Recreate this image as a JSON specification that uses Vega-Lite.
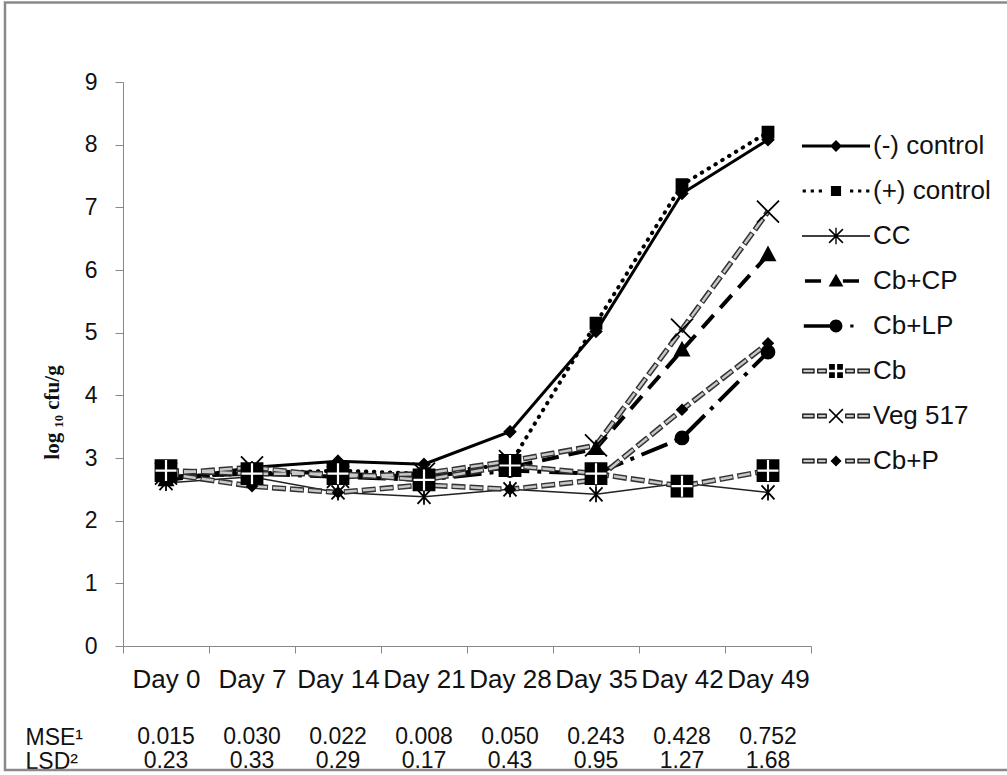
{
  "$schema": "https://vega.github.io/schema/vega-lite/v6.json",
  "width": 688,
  "height": 564,
  "autosize": {"type": "none"},
  "padding": {"left": 123, "top": 82, "right": 196, "bottom": 129},
  "background": "white",
  "config": {"view": {"stroke": null}, "font": "Liberation Sans", "axis": {"grid": false}},
  "datasets": {
    "series": [
      {"series": "(-) control", "day": "Day 0", "v": 2.65},
      {"series": "(-) control", "day": "Day 7", "v": 2.85},
      {"series": "(-) control", "day": "Day 14", "v": 2.95},
      {"series": "(-) control", "day": "Day 21", "v": 2.9},
      {"series": "(-) control", "day": "Day 28", "v": 3.42},
      {"series": "(-) control", "day": "Day 35", "v": 5.02},
      {"series": "(-) control", "day": "Day 42", "v": 7.22},
      {"series": "(-) control", "day": "Day 49", "v": 8.08},
      {"series": "(+) control", "day": "Day 0", "v": 2.7},
      {"series": "(+) control", "day": "Day 7", "v": 2.75},
      {"series": "(+) control", "day": "Day 14", "v": 2.8},
      {"series": "(+) control", "day": "Day 21", "v": 2.75},
      {"series": "(+) control", "day": "Day 28", "v": 2.9},
      {"series": "(+) control", "day": "Day 35", "v": 5.15},
      {"series": "(+) control", "day": "Day 42", "v": 7.36},
      {"series": "(+) control", "day": "Day 49", "v": 8.2},
      {"series": "CC", "day": "Day 0", "v": 2.6},
      {"series": "CC", "day": "Day 7", "v": 2.7},
      {"series": "CC", "day": "Day 14", "v": 2.45},
      {"series": "CC", "day": "Day 21", "v": 2.38},
      {"series": "CC", "day": "Day 28", "v": 2.5},
      {"series": "CC", "day": "Day 35", "v": 2.42},
      {"series": "CC", "day": "Day 42", "v": 2.6},
      {"series": "CC", "day": "Day 49", "v": 2.45},
      {"series": "Cb+CP", "day": "Day 0", "v": 2.65},
      {"series": "Cb+CP", "day": "Day 7", "v": 2.8},
      {"series": "Cb+CP", "day": "Day 14", "v": 2.75},
      {"series": "Cb+CP", "day": "Day 21", "v": 2.7},
      {"series": "Cb+CP", "day": "Day 28", "v": 2.85},
      {"series": "Cb+CP", "day": "Day 35", "v": 3.15},
      {"series": "Cb+CP", "day": "Day 42", "v": 4.72},
      {"series": "Cb+CP", "day": "Day 49", "v": 6.24},
      {"series": "Cb+LP", "day": "Day 0", "v": 2.7},
      {"series": "Cb+LP", "day": "Day 7", "v": 2.75},
      {"series": "Cb+LP", "day": "Day 14", "v": 2.7},
      {"series": "Cb+LP", "day": "Day 21", "v": 2.65},
      {"series": "Cb+LP", "day": "Day 28", "v": 2.8},
      {"series": "Cb+LP", "day": "Day 35", "v": 2.75},
      {"series": "Cb+LP", "day": "Day 42", "v": 3.32},
      {"series": "Cb+LP", "day": "Day 49", "v": 4.69},
      {"series": "Cb", "day": "Day 0", "v": 2.8},
      {"series": "Cb", "day": "Day 7", "v": 2.75},
      {"series": "Cb", "day": "Day 14", "v": 2.75},
      {"series": "Cb", "day": "Day 21", "v": 2.65},
      {"series": "Cb", "day": "Day 28", "v": 2.88},
      {"series": "Cb", "day": "Day 35", "v": 2.75},
      {"series": "Cb", "day": "Day 42", "v": 2.55},
      {"series": "Cb", "day": "Day 49", "v": 2.8},
      {"series": "Veg 517", "day": "Day 0", "v": 2.75},
      {"series": "Veg 517", "day": "Day 7", "v": 2.85},
      {"series": "Veg 517", "day": "Day 14", "v": 2.7},
      {"series": "Veg 517", "day": "Day 21", "v": 2.75},
      {"series": "Veg 517", "day": "Day 28", "v": 2.95},
      {"series": "Veg 517", "day": "Day 35", "v": 3.2},
      {"series": "Veg 517", "day": "Day 42", "v": 5.05},
      {"series": "Veg 517", "day": "Day 49", "v": 6.93},
      {"series": "Cb+P", "day": "Day 0", "v": 2.75},
      {"series": "Cb+P", "day": "Day 7", "v": 2.55},
      {"series": "Cb+P", "day": "Day 14", "v": 2.45},
      {"series": "Cb+P", "day": "Day 21", "v": 2.57},
      {"series": "Cb+P", "day": "Day 28", "v": 2.5},
      {"series": "Cb+P", "day": "Day 35", "v": 2.65},
      {"series": "Cb+P", "day": "Day 42", "v": 3.77},
      {"series": "Cb+P", "day": "Day 49", "v": 4.83}
    ],
    "table": [
      {"day": "Day 0", "mse": "0.015", "lsd": "0.23"},
      {"day": "Day 7", "mse": "0.030", "lsd": "0.33"},
      {"day": "Day 14", "mse": "0.022", "lsd": "0.29"},
      {"day": "Day 21", "mse": "0.008", "lsd": "0.17"},
      {"day": "Day 28", "mse": "0.050", "lsd": "0.43"},
      {"day": "Day 35", "mse": "0.243", "lsd": "0.95"},
      {"day": "Day 42", "mse": "0.428", "lsd": "1.27"},
      {"day": "Day 49", "mse": "0.752", "lsd": "1.68"}
    ],
    "frame": [{"name": "frame"}]
  },
  "layer": [
    {
      "data": {"name": "frame"},
      "mark": {"type": "rect", "filled": false, "stroke": "#8a8a8a", "strokeWidth": 2.5},
      "encoding": {
        "x": {"datum": -0.1715, "type": "quantitative", "scale": {"domain": [0, 1]}, "axis": null},
        "x2": {"datum": 1.32},
        "y": {"datum": 10.27, "type": "quantitative"},
        "y2": {"datum": -1.98}
      }
    },
    {
      "layer": [
        {
          "data": {"name": "series"},
          "transform": [{"filter": "datum.series === '(-) control'"}],
          "mark": {"type": "line", "color": "#000", "strokeWidth": 3, "strokeJoin": "round"},
          "encoding": {
            "x": {
              "field": "day", "type": "ordinal",
              "scale": {"type": "band", "domain": ["Day 0", "Day 7", "Day 14", "Day 21", "Day 28", "Day 35", "Day 42", "Day 49"], "paddingInner": 0, "paddingOuter": 0},
              "axis": {
                "title": ["MSE¹", "LSD²"], "titleX": -98, "titleY": 98, "titleAlign": "left", "titleAnchor": "start",
                "titleBaseline": "alphabetic", "titleAngle": 0, "titleFontSize": 23, "titleFontWeight": "normal",
                "titleLineHeight": 24, "titleColor": "#111", "titleFont": "Liberation Sans",
                "labelFontSize": 26, "labelColor": "#111", "labelAngle": 0, "labelPadding": 13, "labelOverlap": false,
                "labelBound": false, "labelFont": "Liberation Sans",
                "tickSize": 7, "tickColor": "#888", "domainColor": "#888", "tickBand": "extent"
              }
            },
            "y": {
              "field": "v", "type": "quantitative",
              "scale": {"domain": [0, 9], "nice": false, "zero": true},
              "axis": {
                "title": "log ₁₀ cfu/g", "titleFont": "Liberation Serif", "titleFontSize": 21, "titleFontWeight": "bold",
                "titleColor": "#111", "titlePadding": 22, "titleY": 330, "format": "d",
                "values": [0, 1, 2, 3, 4, 5, 6, 7, 8, 9],
                "labelFontSize": 23, "labelColor": "#111", "labelPadding": 18, "labelFont": "Liberation Sans",
                "tickSize": 8, "tickColor": "#888", "domainColor": "#888"
              }
            }
          }
        },
        {
          "data": {"name": "series"},
          "transform": [{"filter": "datum.series === '(+) control'"}],
          "mark": {"type": "line", "color": "#000", "strokeWidth": 4, "strokeDash": [0.5, 7.5], "strokeCap": "round"},
          "encoding": {"x": {"field": "day", "type": "ordinal"}, "y": {"field": "v", "type": "quantitative"}}
        },
        {
          "data": {"name": "series"},
          "transform": [{"filter": "datum.series === 'CC'"}],
          "mark": {"type": "line", "color": "#222", "strokeWidth": 1.5},
          "encoding": {"x": {"field": "day", "type": "ordinal"}, "y": {"field": "v", "type": "quantitative"}}
        },
        {
          "data": {"name": "series"},
          "transform": [{"filter": "datum.series === 'Cb+CP'"}],
          "mark": {"type": "line", "color": "#000", "strokeWidth": 4, "strokeDash": [17, 10]},
          "encoding": {"x": {"field": "day", "type": "ordinal"}, "y": {"field": "v", "type": "quantitative"}}
        },
        {
          "data": {"name": "series"},
          "transform": [{"filter": "datum.series === 'Cb+LP'"}],
          "mark": {"type": "line", "color": "#000", "strokeWidth": 4, "strokeDash": [28, 8, 4, 8]},
          "encoding": {"x": {"field": "day", "type": "ordinal"}, "y": {"field": "v", "type": "quantitative"}}
        },
        {
          "data": {"name": "series"},
          "transform": [{"filter": {"field": "series", "oneOf": ["Cb", "Veg 517", "Cb+P"]}}],
          "mark": {"type": "line", "color": "#333", "strokeWidth": 5.5, "strokeDash": [14, 4], "strokeDashOffset": 1},
          "encoding": {"x": {"field": "day", "type": "ordinal"}, "y": {"field": "v", "type": "quantitative"}, "detail": {"field": "series"}}
        },
        {
          "data": {"name": "series"},
          "transform": [{"filter": {"field": "series", "oneOf": ["Cb", "Veg 517", "Cb+P"]}}],
          "mark": {"type": "line", "color": "#c8c8c8", "strokeWidth": 2.5, "strokeDash": [12, 6]},
          "encoding": {"x": {"field": "day", "type": "ordinal"}, "y": {"field": "v", "type": "quantitative"}, "detail": {"field": "series"}}
        },
        {
          "data": {"name": "series"},
          "mark": {"type": "point", "filled": true, "color": "#000", "stroke": "#000", "strokeWidth": 1.8, "size": 400, "opacity": 1},
          "encoding": {
            "x": {"field": "day", "type": "ordinal"},
            "y": {"field": "v", "type": "quantitative"},
            "shape": {
              "field": "series", "type": "nominal", "legend": null,
              "scale": {
                "domain": ["(-) control", "(+) control", "CC", "Cb+CP", "Cb+LP", "Cb", "Veg 517", "Cb+P"],
                "range": [
                  "M0,-0.55L0.55,0L0,0.55L-0.55,0Z",
                  "M-0.55,-0.55H0.55V0.55H-0.55Z",
                  "M0,-0.8V0.8M-0.65,-0.7L0.65,0.7M-0.65,0.7L0.65,-0.7",
                  "M0,-0.75L0.7,0.55H-0.7Z",
                  "M-0.65,0A0.65,0.65 0 1,0 0.65,0A0.65,0.65 0 1,0 -0.65,0Z",
                  "M-1.05,-1.05H1.05V1.05H-1.05Z",
                  "M-1.1,-1.1L1.1,1.1M-1.1,1.1L1.1,-1.1",
                  "M0,-0.5L0.5,0L0,0.5L-0.5,0Z"
                ]
              }
            }
          }
        },
        {
          "data": {"name": "series"},
          "transform": [{"filter": "datum.series === 'Cb'"}],
          "mark": {"type": "point", "filled": false, "stroke": "#fff", "strokeWidth": 2.2, "size": 400, "shape": "M-1.05,0H1.05M0,-1.05V1.05", "opacity": 1},
          "encoding": {"x": {"field": "day", "type": "ordinal"}, "y": {"field": "v", "type": "quantitative"}}
        },
        {
          "data": {"name": "table"},
          "mark": {"type": "text", "fontSize": 23, "font": "Liberation Sans", "color": "#111", "align": "center", "baseline": "alphabetic"},
          "encoding": {"x": {"field": "day", "type": "ordinal"}, "y": {"datum": -1.5638, "type": "quantitative"}, "text": {"field": "mse"}}
        },
        {
          "data": {"name": "table"},
          "mark": {"type": "text", "fontSize": 23, "font": "Liberation Sans", "color": "#111", "align": "center", "baseline": "alphabetic"},
          "encoding": {"x": {"field": "day", "type": "ordinal"}, "y": {"datum": -1.9467, "type": "quantitative"}, "text": {"field": "lsd"}}
        },
        {
          "data": {"name": "series"},
          "transform": [{"filter": "false"}],
          "mark": {"type": "point", "filled": true, "color": "#000", "strokeWidth": 0},
          "encoding": {
            "shape": {
              "field": "series", "type": "nominal",
              "scale": {
                "domain": ["(-) control", "(+) control", "CC", "Cb+CP", "Cb+LP", "Cb", "Veg 517", "Cb+P"],
                "range": [
                  "M-1.48,-0.065H1.48V0.065H-1.48Z M0,-0.26L0.26,0L0,0.26L-0.26,0Z",
                  "M-1.45,-0.07h0.14v0.14h-0.14Z M-1.1,-0.07h0.14v0.14h-0.14Z M-0.75,-0.07h0.14v0.14h-0.14Z M0.61,-0.07h0.14v0.14h-0.14Z M0.96,-0.07h0.14v0.14h-0.14Z M1.31,-0.07h0.14v0.14h-0.14Z M-0.22,-0.22H0.22V0.22H-0.22Z",
                  "M-1.48,-0.03H1.48V0.03H-1.48Z M-0.03,-0.36H0.03V0.36H-0.03Z M-0.3233,-0.2767L-0.2767,-0.3233L0.3233,0.2767L0.2767,0.3233Z M-0.2767,0.3233L-0.3233,0.2767L0.2767,-0.3233L0.3233,-0.2767Z",
                  "M-1.35,-0.075H-0.65V0.075H-1.35Z M0,-0.32L0.32,0.24H-0.32Z M0.3,-0.075H1.0V0.075H0.3Z",
                  "M-1.4,-0.075H-0.25V0.075H-1.4Z M-0.28,0A0.28,0.28 0 1,1 0.28,0A0.28,0.28 0 1,1 -0.28,0Z M0.62,-0.07h0.14v0.14h-0.14Z",
                  "M-1.47,-0.11H-0.93V0.11H-1.47Z M-0.82,-0.11H-0.4V0.11H-0.82Z M0.4,-0.11H0.82V0.11H0.4Z M0.93,-0.11H1.47V0.11H0.93Z M-0.3,-0.3H-0.05V-0.05H-0.3Z M0.05,-0.3H0.3V-0.05H0.05Z M-0.3,0.05H-0.05V0.3H-0.3Z M0.05,0.05H0.3V0.3H0.05Z",
                  "M-1.47,-0.11H-0.93V0.11H-1.47Z M-0.82,-0.11H-0.4V0.11H-0.82Z M0.4,-0.11H0.82V0.11H0.4Z M0.93,-0.11H1.47V0.11H0.93Z M-0.3233,-0.2767L-0.2767,-0.3233L0.3233,0.2767L0.2767,0.3233Z M-0.2767,0.3233L-0.3233,0.2767L0.2767,-0.3233L0.3233,-0.2767Z",
                  "M-1.47,-0.11H-0.93V0.11H-1.47Z M-0.82,-0.11H-0.4V0.11H-0.82Z M0.4,-0.11H0.82V0.11H0.4Z M0.93,-0.11H1.47V0.11H0.93Z M0,-0.24L0.24,0L0,0.24L-0.24,0Z"
                ]
              },
              "legend": {
                "orient": "none", "legendX": 690, "legendY": 41, "title": null, "padding": 0, "rowPadding": 9,
                "symbolSize": 2116, "symbolFillColor": "#000", "symbolStrokeColor": "transparent", "symbolStrokeWidth": 0,
                "symbolOpacity": 1, "labelFontSize": 26, "labelFont": "Liberation Sans", "labelColor": "#111",
                "labelOffset": 14, "symbolLimit": 0
              }
            }
          }
        },
        {
          "data": {"name": "series"},
          "transform": [{"filter": "false"}],
          "mark": {"type": "point", "filled": true, "color": "#c4c4c4", "strokeWidth": 0},
          "encoding": {
            "shape": {
              "field": "series", "type": "nominal",
              "scale": {
                "domain": ["(-) control", "(+) control", "CC", "Cb+CP", "Cb+LP", "Cb", "Veg 517", "Cb+P"],
                "range": [
                  "M0,0Z", "M0,0Z", "M0,0Z", "M0,0Z", "M0,0Z",
                  "M-1.42,-0.05H-0.98V0.05H-1.42Z M-0.77,-0.05H-0.45V0.05H-0.77Z M0.45,-0.05H0.77V0.05H0.45Z M0.98,-0.05H1.42V0.05H0.98Z",
                  "M-1.42,-0.05H-0.98V0.05H-1.42Z M-0.77,-0.05H-0.45V0.05H-0.77Z M0.45,-0.05H0.77V0.05H0.45Z M0.98,-0.05H1.42V0.05H0.98Z",
                  "M-1.42,-0.05H-0.98V0.05H-1.42Z M-0.77,-0.05H-0.45V0.05H-0.77Z M0.45,-0.05H0.77V0.05H0.45Z M0.98,-0.05H1.42V0.05H0.98Z"
                ]
              },
              "legend": {
                "orient": "none", "legendX": 690, "legendY": 41, "title": null, "padding": 0, "rowPadding": 9,
                "symbolSize": 2116, "symbolFillColor": "#c4c4c4", "symbolStrokeColor": "transparent", "symbolStrokeWidth": 0,
                "symbolOpacity": 1, "labelFontSize": 26, "labelFont": "Liberation Sans", "labelColor": "#111",
                "labelExpr": "''", "labelOffset": 14, "symbolLimit": 0
              }
            }
          }
        }
      ],
      "resolve": {"scale": {"shape": "independent"}, "legend": {"shape": "independent"}}
    }
  ],
  "resolve": {"scale": {"x": "independent"}}
}
